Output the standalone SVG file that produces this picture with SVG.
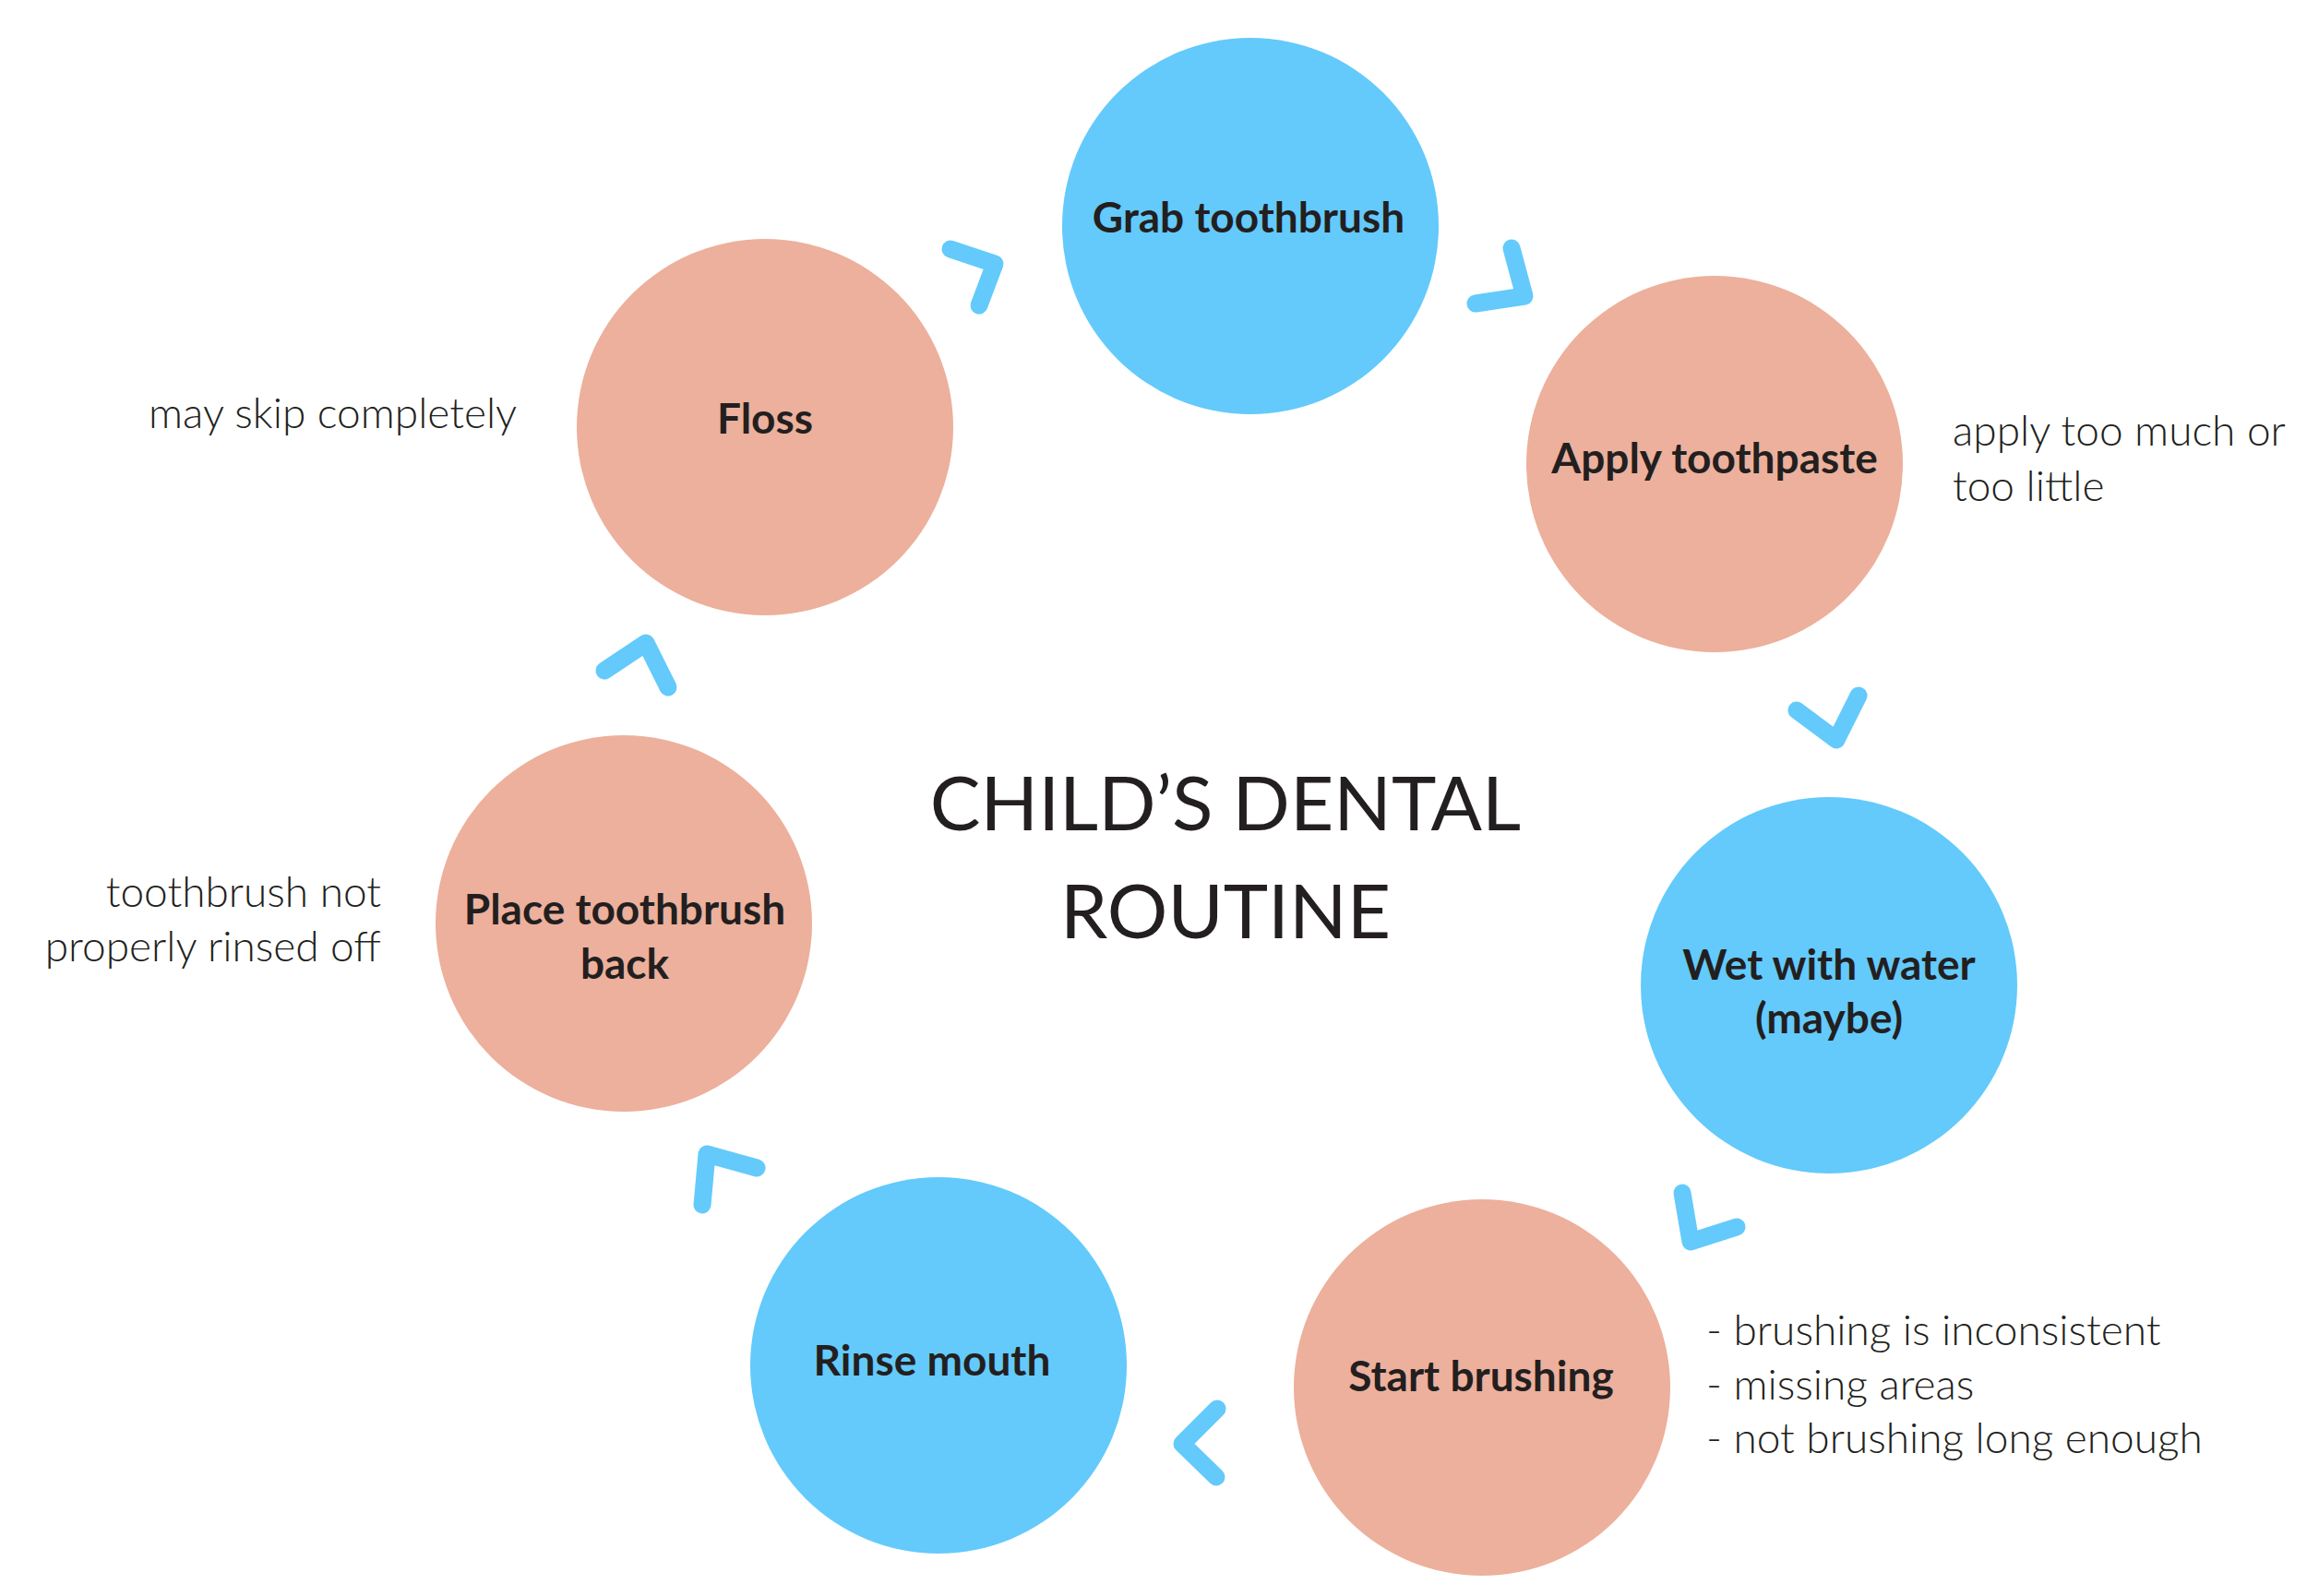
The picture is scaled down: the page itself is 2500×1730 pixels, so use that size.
<svg xmlns="http://www.w3.org/2000/svg" width="2500" height="1730" viewBox="0 0 2500 1730">
<style>
.blue{fill:#63cafb}
.pink{fill:#ecb09c}
.lbl{font-family:Lato,"Open Sans","Liberation Sans",sans-serif;font-weight:bold;font-size:46px;fill:#231f20;text-anchor:middle}
.note{font-family:Lato,"Open Sans","Liberation Sans",sans-serif;font-weight:300;font-size:46px;fill:#231f20}
.title{font-family:Lato,"Open Sans","Liberation Sans",sans-serif;font-weight:normal;font-size:82px;fill:#231f20;text-anchor:middle}
.chev{fill:none;stroke:#63cafb;stroke-width:19;stroke-linecap:round;stroke-linejoin:round}
</style>
<rect width="2500" height="1730" fill="#ffffff"/>
<g id="title">
<text class="title" x="1328" y="900">CHILD’S DENTAL</text>
<text class="title" x="1328" y="1017">ROUTINE</text>
</g>
<g id="connectors">
<polyline class="chev" points="1030,270 1078,286 1061,331"/>
<polyline class="chev" points="1638,269 1652,321 1599,329"/>
<polyline class="chev" points="1947,770 1990,802 2014,754"/>
<polyline class="chev" points="1823,1293 1832,1346 1882,1330"/>
<polyline class="chev" points="1319,1527 1281,1565 1318,1601"/>
<polyline class="chev" points="820,1266 766,1251 761,1306"/>
<polyline class="chev" points="655,727 700,697 724,745"/>
</g>
<g id="node-grab">
<circle class="blue" cx="1355" cy="245" r="204"/>
<text class="lbl" x="1353" y="252">Grab toothbrush</text>
</g>
<g id="node-apply">
<circle class="pink" cx="1858" cy="503" r="204"/>
<text class="lbl" x="1858" y="513">Apply toothpaste</text>
<text class="note" x="2116" y="483">apply too much or</text>
<text class="note" x="2116" y="543">too little</text>
</g>
<g id="node-wet">
<circle class="blue" cx="1982" cy="1068" r="204"/>
<text class="lbl" x="1982" y="1062">Wet with water</text>
<text class="lbl" x="1982" y="1120">(maybe)</text>
</g>
<g id="node-start">
<circle class="pink" cx="1606" cy="1504" r="204"/>
<text class="lbl" x="1605" y="1508">Start brushing</text>
<text class="note" x="1849" y="1458">- brushing is inconsistent</text>
<text class="note" x="1849" y="1517">- missing areas</text>
<text class="note" x="1849" y="1575">- not brushing long enough</text>
</g>
<g id="node-rinse">
<circle class="blue" cx="1017" cy="1480" r="204"/>
<text class="lbl" x="1010" y="1491">Rinse mouth</text>
</g>
<g id="node-place">
<circle class="pink" cx="676" cy="1001" r="204"/>
<text class="lbl" x="677" y="1002">Place toothbrush</text>
<text class="lbl" x="677" y="1061">back</text>
<text class="note" x="413" y="983" text-anchor="end">toothbrush not</text>
<text class="note" x="413" y="1042" text-anchor="end">properly rinsed off</text>
</g>
<g id="node-floss">
<circle class="pink" cx="829" cy="463" r="204"/>
<text class="lbl" x="829" y="470">Floss</text>
<text class="note" x="161" y="464">may skip completely</text>
</g>
</svg>
